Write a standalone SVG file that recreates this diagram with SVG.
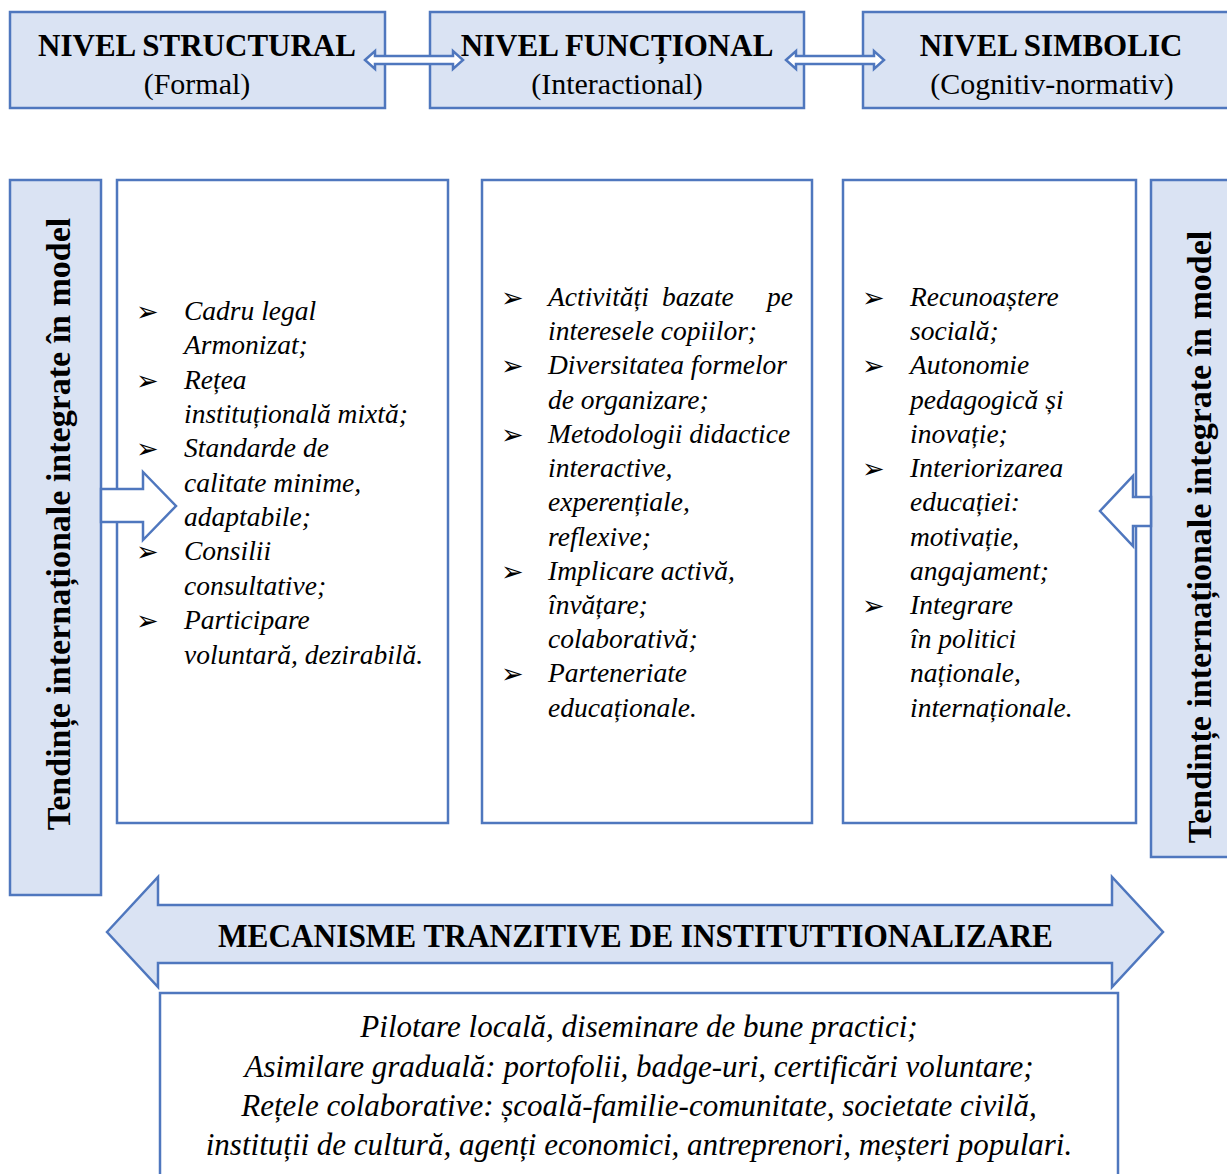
<svg xmlns="http://www.w3.org/2000/svg" width="1227" height="1174" viewBox="0 0 1227 1174">
<style>
.lb{fill:#dae3f3;stroke:#4f77be;stroke-width:2.5}
.wb{fill:#ffffff;stroke:#4f77be;stroke-width:2.5}
.wa{fill:#ffffff;stroke:#4f77be;stroke-width:2.5;stroke-linejoin:miter}
.t{font-family:"Liberation Serif","Times New Roman",serif;fill:#000}
.h{font-size:31px;font-weight:bold}
.s{font-size:30px}
.it{font-family:"Liberation Serif","Times New Roman",serif;font-style:italic;font-size:27.5px;fill:#000}
.bl{font-family:"DejaVu Sans",sans-serif;font-size:27px;fill:#000}
.v{font-family:"Liberation Serif","Times New Roman",serif;font-weight:bold;font-size:34px;fill:#000}
.bt{font-family:"Liberation Serif","Times New Roman",serif;font-style:italic;font-size:31px;fill:#000}
</style>
<rect width="1227" height="1174" fill="#ffffff"/>

<g id="nivel-structural">
<rect class="lb" x="10" y="12" width="375" height="96"/>
<text class="t h" x="197" y="56" text-anchor="middle">NIVEL STRUCTURAL</text>
<text class="t s" x="197" y="94" text-anchor="middle">(Formal)</text>
</g>
<g id="nivel-functional">
<rect class="lb" x="430" y="12" width="374" height="96"/>
<text class="t h" x="617" y="56" text-anchor="middle">NIVEL FUNCȚIONAL</text>
<text class="t s" x="617" y="94" text-anchor="middle">(Interactional)</text>
</g>
<g id="nivel-simbolic">
<rect class="lb" x="863" y="12" width="375" height="96"/>
<text class="t h" x="1051" y="56" text-anchor="middle">NIVEL SIMBOLIC</text>
<text class="t s" x="1052" y="94" text-anchor="middle">(Cognitiv-normativ)</text>
</g>

<g id="tendinte-stanga">
<rect class="lb" x="10" y="180" width="91" height="715"/>
<text class="v" transform="translate(70,524) rotate(-90)" text-anchor="middle">Tendințe internaționale integrate în model</text>
</g>
<g id="tendinte-dreapta">
<rect class="lb" x="1151" y="180" width="90" height="677"/>
<text class="v" transform="translate(1211,537) rotate(-90)" text-anchor="middle">Tendințe internaționale integrate în model</text>
</g>

<g id="box-structural">
<rect class="wb" x="117" y="180" width="331" height="643"/>
<g class="bl">
<text x="136" y="321">➢</text><text x="136" y="390">➢</text><text x="136" y="458">➢</text><text x="136" y="561">➢</text><text x="136" y="630">➢</text>
</g>
<text class="it" x="184" y="320">Cadru legal</text>
<text class="it" x="184" y="354">Armonizat;</text>
<text class="it" x="184" y="389">Rețea</text>
<text class="it" x="184" y="423">instituțională mixtă;</text>
<text class="it" x="184" y="457">Standarde de</text>
<text class="it" x="184" y="492">calitate minime,</text>
<text class="it" x="184" y="526">adaptabile;</text>
<text class="it" x="184" y="560">Consilii</text>
<text class="it" x="184" y="595">consultative;</text>
<text class="it" x="184" y="629">Participare</text>
<text class="it" x="184" y="664">voluntară, dezirabilă.</text>
</g>

<g id="box-functional">
<rect class="wb" x="482" y="180" width="330" height="643"/>
<g class="bl">
<text x="501" y="307">➢</text><text x="501" y="375">➢</text><text x="501" y="444">➢</text><text x="501" y="581">➢</text><text x="501" y="683">➢</text>
</g>
<text class="it" x="548" y="306">Activități</text>
<text class="it" x="662" y="306">bazate</text>
<text class="it" x="793" y="306" text-anchor="end">pe</text>
<text class="it" x="548" y="340">interesele copiilor;</text>
<text class="it" x="548" y="374">Diversitatea formelor</text>
<text class="it" x="548" y="409">de organizare;</text>
<text class="it" x="548" y="443">Metodologii didactice</text>
<text class="it" x="548" y="477">interactive,</text>
<text class="it" x="548" y="511">experențiale,</text>
<text class="it" x="548" y="546">reflexive;</text>
<text class="it" x="548" y="580">Implicare activă,</text>
<text class="it" x="548" y="614">învățare;</text>
<text class="it" x="548" y="648">colaborativă;</text>
<text class="it" x="548" y="682">Parteneriate</text>
<text class="it" x="548" y="717">educaționale.</text>
</g>

<g id="box-simbolic">
<rect class="wb" x="843" y="180" width="293" height="643"/>
<g class="bl">
<text x="862" y="307">➢</text><text x="862" y="375">➢</text><text x="862" y="478">➢</text><text x="862" y="615">➢</text>
</g>
<text class="it" x="910" y="306">Recunoaștere</text>
<text class="it" x="910" y="340">socială;</text>
<text class="it" x="910" y="374">Autonomie</text>
<text class="it" x="910" y="409">pedagogică și</text>
<text class="it" x="910" y="443">inovație;</text>
<text class="it" x="910" y="477">Interiorizarea</text>
<text class="it" x="910" y="511">educației:</text>
<text class="it" x="910" y="546">motivație,</text>
<text class="it" x="910" y="580">angajament;</text>
<text class="it" x="910" y="614">Integrare</text>
<text class="it" x="910" y="648">în politici</text>
<text class="it" x="910" y="682">naționale,</text>
<text class="it" x="910" y="717">internaționale.</text>
</g>

<g id="connectors">
<path class="wa" d="M365,60 L375,51 L375,56 L453,56 L453,51 L463,60 L453,69 L453,64 L375,64 L375,69 Z"/>
<path class="wa" d="M786,60 L796,51 L796,56 L874,56 L874,51 L884,60 L874,69 L874,64 L796,64 L796,69 Z"/>
<path class="wa" d="M101,489 L143,489 L143,472 L176,506 L143,540 L143,522 L101,522 Z"/>
<path class="wa" d="M1151,497 L1133,497 L1133,476 L1100,511 L1133,546 L1133,526 L1151,526 Z"/>
</g>

<g id="mecanisme">
<path class="lb" d="M107,932 L158,877 L158,905 L1112,905 L1112,877 L1163,932 L1112,987 L1112,963 L158,963 L158,987 Z"/>
<text class="t" x="218" y="947" font-size="34" font-weight="bold" textLength="835" lengthAdjust="spacingAndGlyphs">MECANISME TRANZITIVE DE INSTITUTTIONALIZARE</text>
</g>

<g id="box-mecanisme">
<rect class="wb" x="160" y="993" width="958" height="190"/>
<text class="bt" x="639" y="1037" text-anchor="middle">Pilotare locală, diseminare de bune practici;</text>
<text class="bt" x="639" y="1077" text-anchor="middle">Asimilare graduală: portofolii, badge-uri,  certificări voluntare;</text>
<text class="bt" x="639" y="1116" text-anchor="middle">Rețele colaborative: școală-familie-comunitate, societate civilă,</text>
<text class="bt" x="639" y="1155" text-anchor="middle">instituții de cultură, agenți economici, antreprenori, meșteri populari.</text>
</g>
</svg>
